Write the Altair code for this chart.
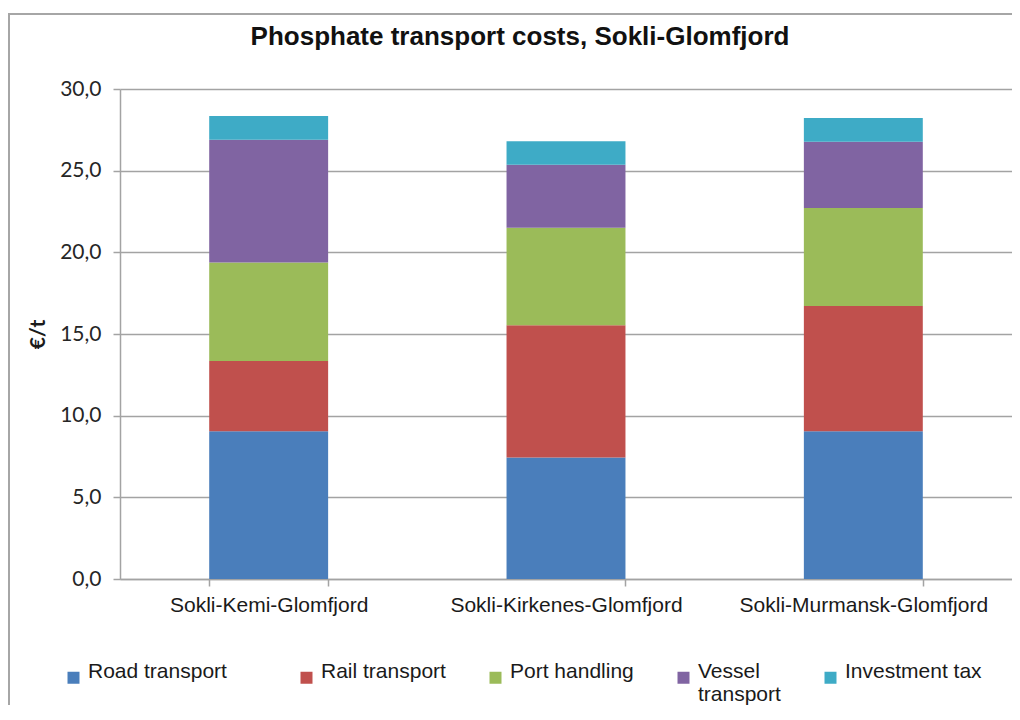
import altair as alt
import pandas as pd

categories = ["Sokli-Kemi-Glomfjord", "Sokli-Kirkenes-Glomfjord", "Sokli-Murmansk-Glomfjord"]
series = ["Road transport", "Rail transport", "Port handling", "Vessel transport", "Investment tax"]
road = [9.05, 7.44, 9.05]
rail = [4.30, 8.09, 7.67]
port = [6.02, 5.98, 5.99]
vessel = [7.52, 3.85, 4.06]
invest = [1.45, 1.44, 1.45]
colors = ["#4a7ebb", "#c0504d", "#9bbb59", "#8064a2", "#3eabc6"]
y_ticks = [0, 5, 10, 15, 20, 25, 30]

rows = []
for s_i, (name, vals) in enumerate(zip(series, [road, rail, port, vessel, invest])):
    for c, v in zip(categories, vals):
        rows.append({"route": c, "component": name, "order": s_i, "cost": v})
df = pd.DataFrame(rows)

W, H = 892, 490
GRID = "#a3a3a3"
PAD = "\u00a0" * 5 + "\u200b"

label_expr = (
    "datum.label == 'Vessel transport' ? ['Vessel', 'transport'] : "
    "datum.label == 'Road transport' ? ['Road transport" + PAD + "', ''] : [datum.label, '']"
)

bars = alt.Chart(df).mark_bar(stroke=None).encode(
    x=alt.X(
        "route:N",
        sort=categories,
        scale=alt.Scale(paddingInner=0.6, paddingOuter=0.3),
        axis=alt.Axis(
            title=None, labelAngle=0, labelFont="Liberation Sans", labelFontSize=21,
            labelColor="#1a1a1a", labelPadding=8, labelBaseline="top", labelLimit=400,
            tickBand="extent", tickSize=7, tickColor=GRID, tickWidth=1.5,
            domainColor=GRID, domainWidth=1.5, grid=False,
        ),
    ),
    y=alt.Y(
        "cost:Q",
        stack="zero",
        scale=alt.Scale(domain=[0, 30], nice=False),
        axis=alt.Axis(
            title="€/t", values=y_ticks,
            labelExpr="replace(format(datum.value, '.1f'), '.', ',')",
            labelFont="Lato", labelFontSize=21, labelColor="#262626", labelPadding=12,
            tickSize=7, tickColor=GRID, tickWidth=1.5,
            domainColor=GRID, domainWidth=1.5,
            grid=True, gridColor=GRID, gridWidth=1.5,
            titleFont="Lato", titleFontSize=21, titleFontWeight="bold", titleColor="#1a1a1a",
            titleAngle=270, titleX=-82, titleY=H / 2, titleAlign="center", titleBaseline="middle",
        ),
    ),
    color=alt.Color(
        "component:N",
        sort=series,
        scale=alt.Scale(domain=series, range=colors),
        legend=alt.Legend(
            title=None, orient="none", legendX=-57, legendY=578,
            direction="horizontal", columns=5, columnPadding=39,
            symbolType="square", symbolSize=144, symbolStrokeWidth=0,
            labelFont="Liberation Sans", labelFontSize=21, labelColor="#1a1a1a",
            labelOffset=4, labelLimit=400, labelBaseline="alphabetic",
            labelExpr=label_expr,
        ),
    ),
    order=alt.Order("order:Q", sort="ascending"),
)

frame_df = pd.DataFrame({"k": [0]})
frame_left = alt.Chart(frame_df).mark_rule(color="#a6a6a6", strokeWidth=2).encode(
    x=alt.value(-111), y=alt.value(-75), y2=alt.value(H + 300)
)
frame_top = alt.Chart(frame_df).mark_rule(color="#a6a6a6", strokeWidth=2).encode(
    x=alt.value(-112), x2=alt.value(W + 30), y=alt.value(-75)
)

chart = alt.layer(bars, frame_left, frame_top).properties(
    width=W,
    height=H,
    autosize=alt.AutoSizeParams(type="none"),
    padding={"left": 112, "top": 81, "right": 0, "bottom": 126},
    title=alt.Title(
        "Phosphate transport costs, Sokli-Glomfjord",
        font="Liberation Sans", fontSize=26, fontWeight="bold", color="#111111",
        anchor="middle", dx=-46, offset=-58, baseline="alphabetic",
    ),
).configure_view(stroke=None)

chart.save("out.html", embed_options={"renderer": "svg", "actions": False})
